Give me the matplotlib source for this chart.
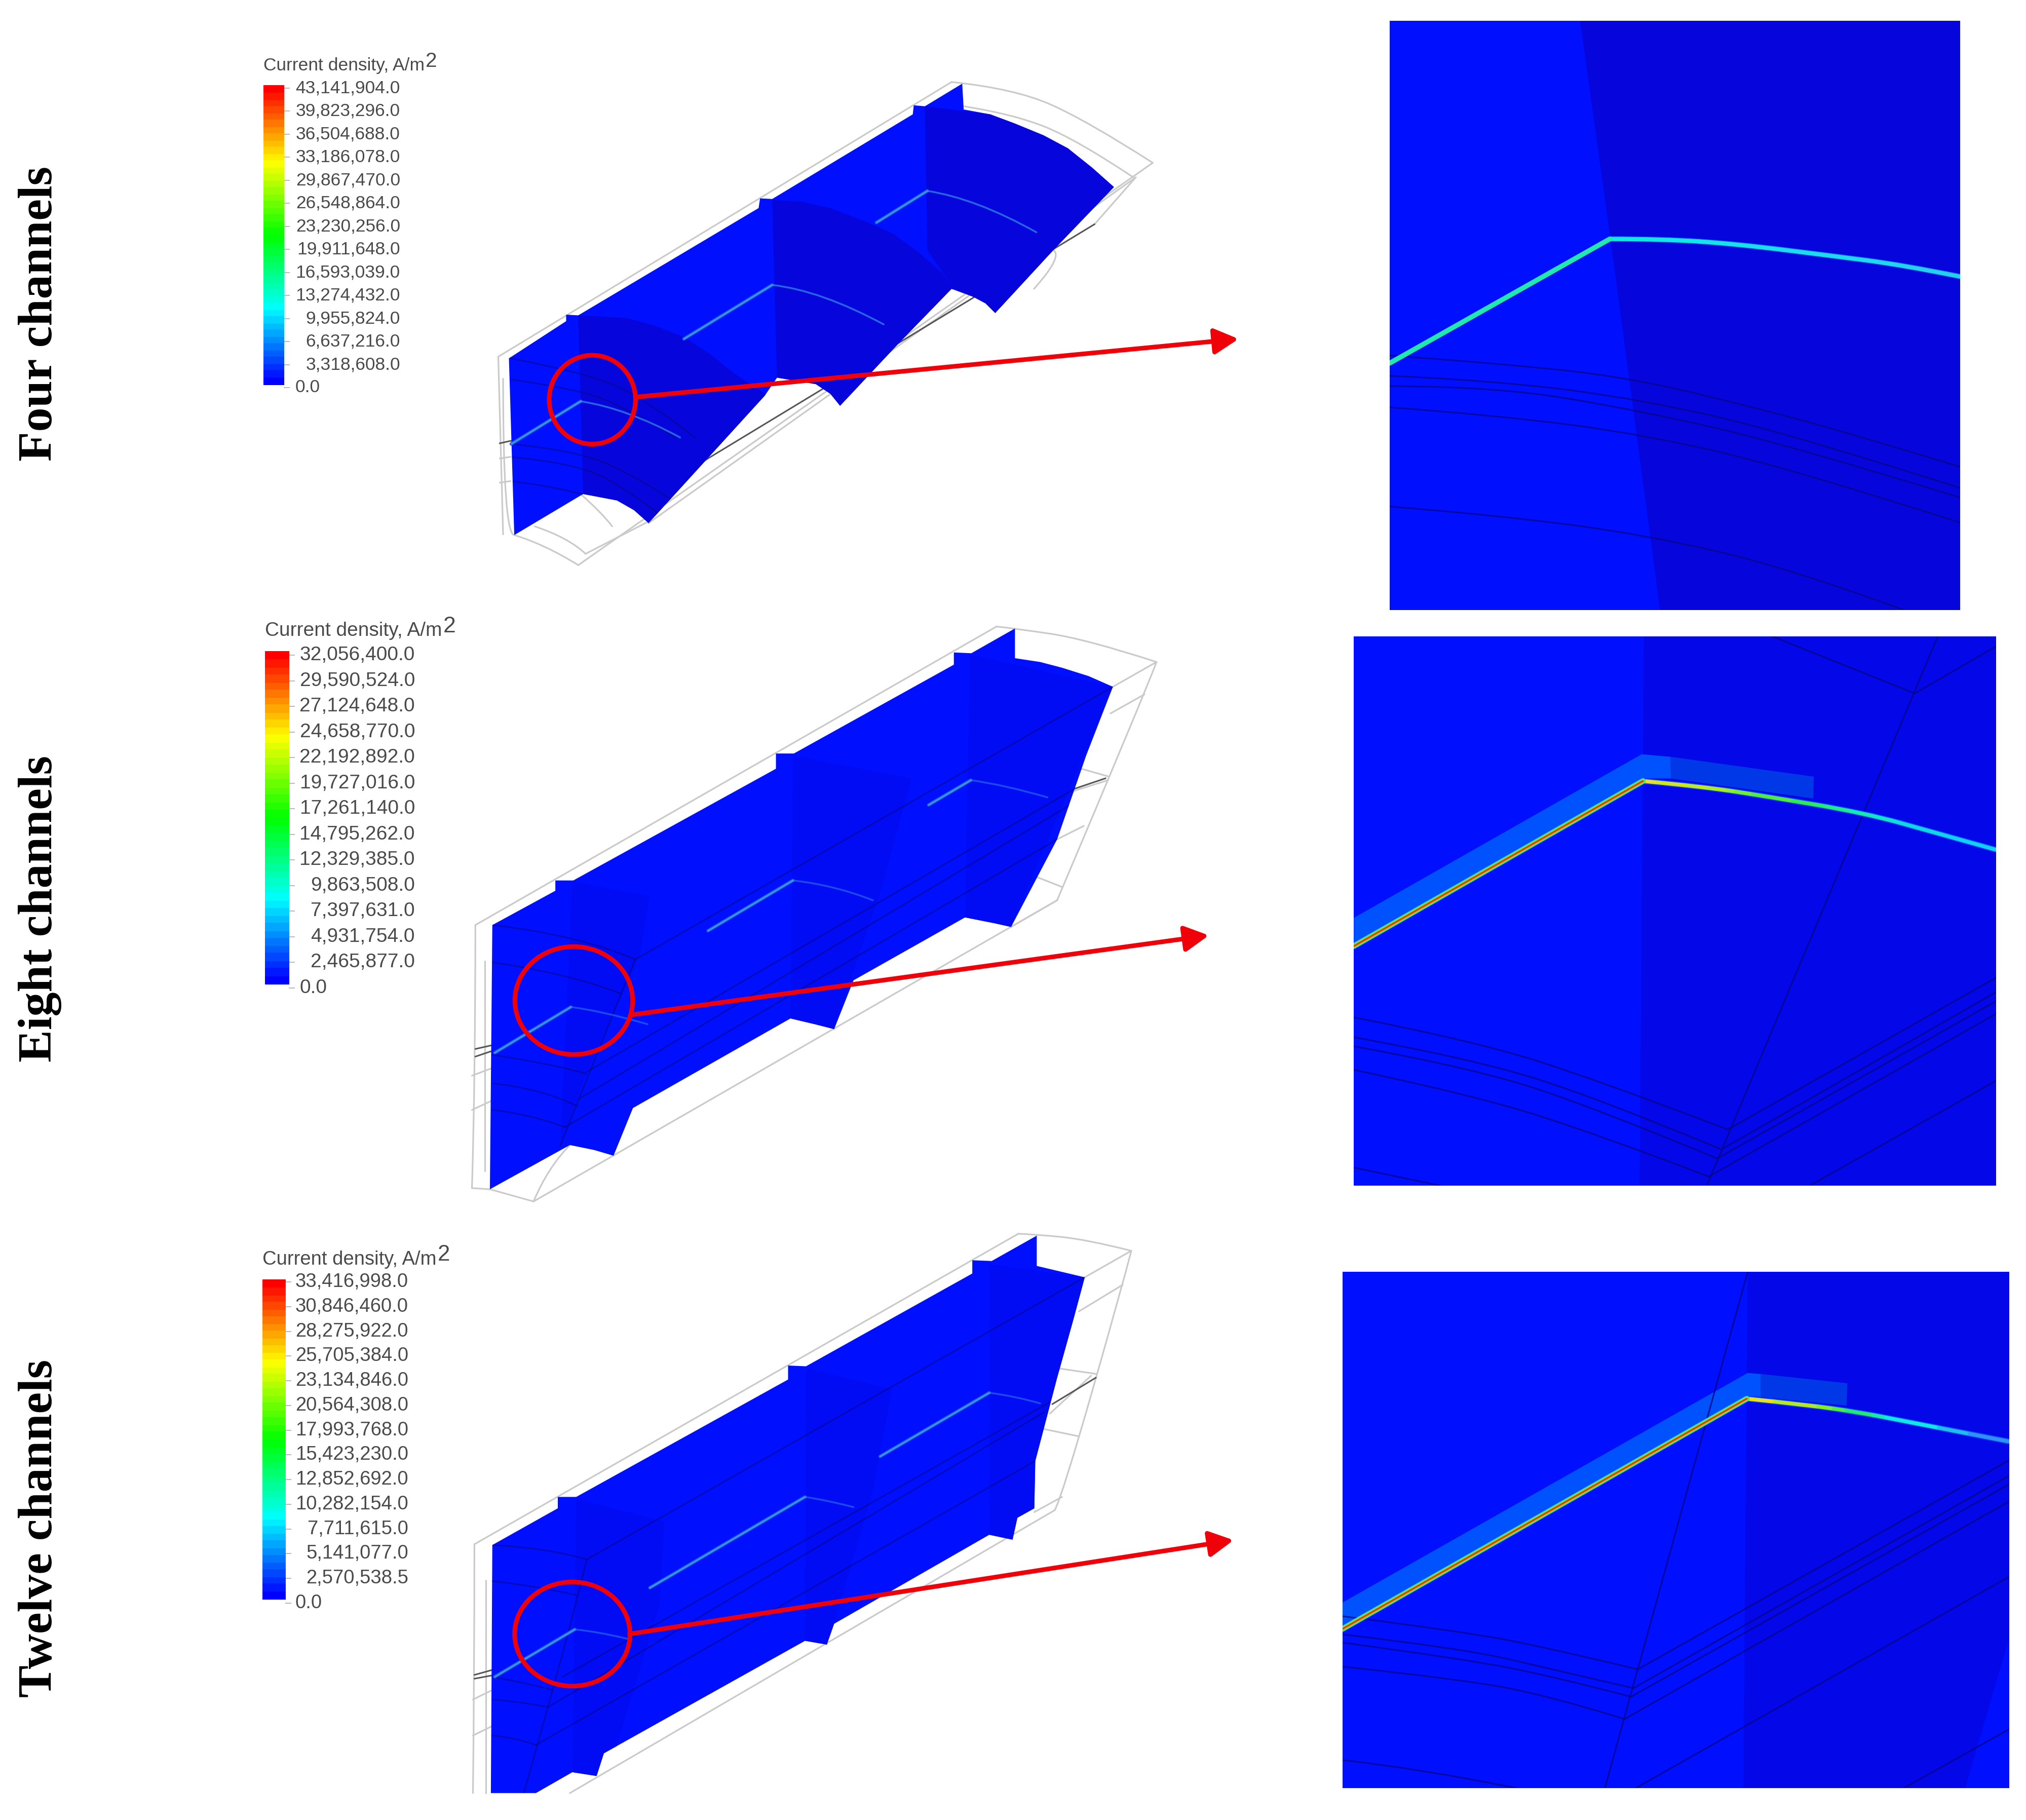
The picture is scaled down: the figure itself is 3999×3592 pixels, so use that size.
import numpy as np
import matplotlib
matplotlib.use('Agg')
import matplotlib.pyplot as plt
from matplotlib.colors import LinearSegmentedColormap
from matplotlib.patches import Ellipse, PathPatch, Polygon, Rectangle
from matplotlib.path import Path
from matplotlib.collections import LineCollection

plt.rcParams['font.family'] = ['Liberation Sans', 'DejaVu Sans']

# legend values
row_labels = ['Four channels', 'Eight channels', 'Twelve channels']
legend_title = 'Current density, A/m'
ticks_four = ['43,141,904.0', '39,823,296.0', '36,504,688.0', '33,186,078.0', '29,867,470.0',
              '26,548,864.0', '23,230,256.0', '19,911,648.0', '16,593,039.0', '13,274,432.0',
              '9,955,824.0', '6,637,216.0', '3,318,608.0', '0.0']
ticks_eight = ['32,056,400.0', '29,590,524.0', '27,124,648.0', '24,658,770.0', '22,192,892.0',
               '19,727,016.0', '17,261,140.0', '14,795,262.0', '12,329,385.0', '9,863,508.0',
               '7,397,631.0', '4,931,754.0', '2,465,877.0', '0.0']
ticks_twelve = ['33,416,998.0', '30,846,460.0', '28,275,922.0', '25,705,384.0', '23,134,846.0',
                '20,564,308.0', '17,993,768.0', '15,423,230.0', '12,852,692.0', '10,282,154.0',
                '7,711,615.0', '5,141,077.0', '2,570,538.5', '0.0']

BLUE = '#0010ff'
DARK_LINE = '#060688'
GREY = '#cacaca'
RED = '#f00008'
TEXT = '#4a4a4a'

blue_four = [(57, 905), (175, 790), (175, 770), (200, 772), (572, 440), (575, 410), (600, 412), (890, 150),
             (892, 122), (915, 125), (992, 55), (995, 135), (1050, 150), (1100, 178), (1160, 215), (1210, 255),
             (1260, 315), (1305, 375), (1180, 570), (1060, 765), (1040, 735), (1015, 715), (970, 690), (860, 860),
             (740, 1052), (720, 1015), (690, 985), (610, 965), (585, 1020), (345, 1415), (315, 1375), (280, 1345),
             (210, 1325), (68, 1452)]
dark_four = [[(200, 772), (300, 780), (360, 805), (420, 840), (475, 895), (520, 950), (590, 1020), (345, 1415),
              (315, 1375), (280, 1345), (210, 1325)],
             [(600, 415), (660, 420), (720, 440), (790, 480), (850, 520), (905, 580), (950, 640), (975, 690),
              (740, 1052), (720, 1015), (690, 985), (610, 965)],
             [(915, 125), (1050, 150), (1100, 178), (1160, 215), (1210, 255), (1260, 315), (1305, 375), (1060, 765),
              (1040, 735), (1015, 715), (975, 690), (920, 570)]]
chan_four = [[(62, 1170), (205, 1038), (300, 1060), (410, 1150)],
             [(418, 845), (600, 678), (700, 695), (830, 800)],
             [(815, 485), (920, 387), (1020, 410), (1145, 515)]]
wire_four = [[(35, 900), (970, 50)], [(970, 50), (1100, 70), (1250, 170), (1385, 300)],
             [(995, 125), (1100, 150), (1230, 230), (1345, 345)], [(1385, 300), (200, 1545)],
             [(1350, 345), (345, 1415)], [(35, 900), (45, 1450)], [(45, 968), (45, 1450), (68, 1452)],
             [(68, 1452), (130, 1480), (200, 1545)], [(110, 1425), (180, 1460), (215, 1510)],
             [(205, 1325), (250, 1385), (270, 1425)], [(215, 1510), (345, 1410)], [(1350, 345), (1265, 490)],
             [(38, 1215), (60, 1210)], [(38, 1290), (60, 1285)], [(1180, 570), (1200, 590), (1140, 690)]]
dark_lines_four = [[(60, 905), (200, 945), (330, 1020), (440, 1150)], [(60, 970), (200, 1000), (300, 1060), (400, 1150)],
                   [(60, 1170), (200, 1190), (330, 1280), (400, 1350)], [(60, 1210), (200, 1230), (310, 1320), (370, 1390)],
                   [(60, 1285), (200, 1310), (300, 1370)]]
black_four = [[(330, 1340), (1265, 490)], [(38, 1168), (62, 1160)]]

blue_eight = [(75, 805), (205, 715), (205, 688), (242, 688), (660, 395), (660, 355), (697, 355), (1027, 122),
              (1027, 90), (1063, 92), (1153, 27), (1153, 105), (1205, 115), (1250, 130), (1305, 152), (1355, 180),
              (1300, 360), (1240, 580), (1145, 810), (1110, 800), (1050, 785), (820, 950), (780, 1078), (740, 1065),
              (690, 1050), (365, 1285), (325, 1410), (285, 1395), (235, 1382), (70, 1498)]
dark_eight = [[(240, 690), (400, 730), (380, 880), (270, 1190), (215, 1385)],
              [(695, 360), (940, 420), (880, 700), (780, 1078), (690, 1050)],
              [(1060, 95), (1355, 180), (1145, 810), (1050, 785)]]
chan_eight = [[(80, 1140), (237, 1020), (300, 1030), (395, 1065)],
              [(520, 820), (695, 688), (780, 700), (860, 740)],
              [(975, 490), (1062, 425), (1130, 437), (1220, 470)]]
wire_eight = [[(40, 805), (1115, 22)], [(1115, 22), (1153, 27), (1300, 55), (1445, 115)], [(1445, 115), (1420, 200), (1240, 740)],
              [(1445, 115), (1355, 180)], [(1420, 200), (1350, 250)], [(1240, 740), (160, 1530)],
              [(1145, 810), (1240, 740)], [(40, 805), (40, 1200), (33, 1495)], [(33, 1495), (70, 1498)], [(70, 1498), (160, 1530)],
              [(160, 1530), (190, 1440), (235, 1382)], [(60, 900), (60, 1450)], [(33, 1200), (75, 1180)], [(33, 1290), (75, 1265)],
              [(1240, 580), (1295, 545)], [(1200, 680), (1250, 705)], [(1290, 395), (1345, 415)], [(1270, 455), (1345, 425)]]
dark_lines_eight = [[(75, 805), (250, 830), (370, 895)], [(60, 900), (230, 930), (340, 985)],
                    [(75, 1145), (200, 1170), (270, 1195)], [(75, 1220), (180, 1235), (250, 1280)],
                    [(75, 1290), (150, 1300), (225, 1335)], [(370, 895), (1355, 180)], [(370, 895), (275, 1190), (215, 1385)],
                    [(270, 1190), (1300, 430)], [(255, 1260), (1280, 480)], [(225, 1335), (1240, 580)]]
black_eight = [[(40, 1130), (75, 1120)], [(40, 1150), (75, 1135)], [(1270, 450), (1340, 420)]]

blue_twelve = [(75, 842), (210, 745), (210, 715), (248, 715), (685, 405), (685, 368), (722, 370), (1065, 125),
               (1065, 90), (1105, 92), (1198, 25), (1198, 105), (1297, 135), (1275, 240), (1240, 400), (1195, 620),
               (1193, 745), (1158, 770), (1148, 828), (1100, 815), (780, 1050), (765, 1105), (720, 1095), (305, 1392),
               (290, 1452), (240, 1442), (165, 1497), (72, 1497)]
dark_twelve = [[(248, 720), (430, 780), (420, 1000), (330, 1380), (290, 1452), (240, 1442)],
               [(722, 375), (900, 430), (860, 700), (780, 1050), (765, 1105), (720, 1095)],
               [(1100, 100), (1297, 135), (1195, 620), (1193, 745), (1148, 828), (1100, 815)]]
chan_twelve = [[(80, 1190), (245, 1065), (290, 1070), (355, 1090)],
               [(400, 955), (720, 715), (770, 725), (820, 742)],
               [(875, 608), (1100, 440), (1150, 448), (1205, 468)]]
wire_twelve = [[(38, 840), (1160, 20)], [(1160, 20), (1198, 22), (1300, 35), (1393, 65)], [(1393, 65), (1375, 155), (1250, 715), (1235, 750)],
               [(1393, 65), (1297, 135)], [(1375, 155), (1285, 225)], [(1235, 750), (235, 1497)], [(38, 840), (38, 1190), (35, 1497)],
               [(62, 935), (62, 1497)], [(35, 1250), (75, 1225)], [(35, 1345), (75, 1320)], [(1250, 715), (1193, 755)],
               [(1210, 535), (1285, 555)], [(1225, 495), (1310, 395)], [(1240, 375), (1320, 390)]]
dark_lines_twelve = [[(75, 842), (190, 850), (270, 880)], [(270, 880), (1297, 135)], [(270, 880), (245, 1010), (190, 1270), (140, 1497)],
                     [(60, 935), (170, 950), (250, 975)], [(75, 1190), (140, 1205), (200, 1225)], [(75, 1250), (130, 1255), (190, 1270)],
                     [(75, 1345), (120, 1350), (165, 1370)], [(190, 1270), (1215, 490)], [(220, 1190), (1225, 465)], [(165, 1370), (1195, 620)]]
black_twelve = [[(38, 1185), (80, 1170)], [(38, 1195), (80, 1185)], [(1230, 470), (1320, 400)]]

arc_colors_four = ['#10e8e0', '#10e8e8', '#18dff0', '#20d8f0', '#28ccf0']
dark_four_r = [(530, 14), (610, 570), (745, 1547), (1553, 1547), (1553, 14)]
chan_four_r = [(18, 905), (610, 582)]
arc_four_r = [(610, 582), (750, 582), (950, 595), (1200, 625), (1400, 650), (1553, 680)]
lines_four_r = [[(18, 885), (300, 905), (650, 940), (1000, 1020), (1300, 1100), (1553, 1175)],
                [(18, 938), (300, 950), (700, 1000), (1100, 1090), (1553, 1230)],
                [(18, 965), (300, 965), (700, 1030), (1100, 1120), (1553, 1255)],
                [(18, 1020), (300, 1040), (700, 1090), (1100, 1180), (1553, 1320)],
                [(18, 1278), (300, 1300), (700, 1350), (1100, 1440), (1400, 1547)]]

arc_colors_eight = ['#e8e020', '#a0f020', '#30e850', '#10e8c0', '#10d0f8']
dark_eight_r = [(705, 22), (695, 1540), (1544, 1540), (1544, 22)]
band_eight_l = [(15, 800), (700, 348), (768, 355), (770, 415), (705, 415), (15, 870)]
band_eight_r = [(768, 355), (1110, 410), (1108, 470), (770, 415)]
chan_eight_r = [(15, 878), (703, 422)]
arc_eight_r = [(703, 422), (850, 438), (1000, 465), (1230, 510), (1400, 565), (1544, 612)]
lines_eight_r = [[(15, 1075), (300, 1140), (600, 1250), (905, 1385)], [(15, 1130), (300, 1190), (600, 1300), (890, 1440)],
                 [(15, 1155), (300, 1215), (600, 1330), (880, 1465)], [(15, 1220), (300, 1290), (600, 1400), (860, 1515)],
                 [(15, 1490), (220, 1540)], [(905, 1385), (1544, 965)], [(890, 1440), (1544, 1005)], [(880, 1465), (1544, 1030)],
                 [(860, 1515), (1544, 1065)], [(1100, 1540), (1544, 1250)], [(855, 1540), (1405, 22)],
                 [(1010, 22), (1350, 180)], [(1350, 180), (1544, 50)]]

arc_colors_twelve = ['#e8e020', '#80f020', '#20e870', '#10e8e8', '#3090f8']
dark_twelve_r = [(945, 30), (935, 1537), (1440, 1537), (1540, 1100), (1540, 30)]
band_twelve_l = [(23, 995), (945, 325), (975, 328), (975, 395), (945, 392), (23, 1065)]
band_twelve_r = [(975, 328), (1172, 355), (1170, 420), (975, 395)]
chan_twelve_r = [(23, 1072), (943, 400)]
arc_twelve_r = [(943, 400), (1080, 418), (1200, 440), (1320, 470), (1440, 500), (1540, 525)]
lines_twelve_r = [[(23, 1035), (300, 1080), (500, 1130), (695, 1190)], [(23, 1088), (300, 1130), (500, 1190), (685, 1245)],
                  [(23, 1112), (300, 1160), (500, 1210), (680, 1270)], [(23, 1182), (300, 1220), (500, 1270), (665, 1335)],
                  [(23, 1455), (200, 1480), (420, 1537)], [(695, 1190), (1540, 580)], [(685, 1245), (1540, 625)],
                  [(680, 1270), (1540, 650)], [(665, 1335), (1540, 700)], [(690, 1537), (1540, 920)],
                  [(1300, 1537), (1540, 1365)], [(945, 30), (620, 1537)]]

# crop origin and scale of each set of points above
view_four = (950, 130, 1.045, 1.568)
view_eight = (900, 1220, 1.045, 1.329)
view_twelve = (900, 2420, 1.045, 1.338)
zoom_four = (2730, 30, 1.363, 1.318)
zoom_eight = (2660, 1240, 1.206, 1.4)
zoom_twelve = (2630, 2490, 1.153, 1.479)

fig = plt.figure(figsize=(39.99, 35.92), dpi=100)
ax = fig.add_axes([0, 0, 1, 1])
ax.set_xlim(0, 3999)
ax.set_ylim(3592, 0)
rainbow = LinearSegmentedColormap.from_list('rb', ['#0000ff', '#00ffff', '#00ff00', '#ffff00', '#ff0000'], N=44)


def px(pts, view):
    a = np.array(pts, dtype=float)
    return np.c_[view[0] + a[:, 0] / view[2], view[1] + a[:, 1] / view[3]]


def curve_path(pts, view):
    a = px(pts, view)
    if len(a) < 3:
        return Path(a, [Path.MOVETO, Path.LINETO])
    verts = [a[0]]
    codes = [Path.MOVETO]
    for i in range(1, len(a) - 1):
        end = a[-1] if i == len(a) - 2 else (a[i] + a[i + 1]) / 2
        verts += [a[i], end]
        codes += [Path.CURVE3, Path.CURVE3]
    return Path(verts, codes)


def curve(pts, view, color, lw, clip=None, alpha=1.0, z=3):
    p = PathPatch(curve_path(pts, view), fill=False, ec=color, lw=lw, alpha=alpha, zorder=z, capstyle='round')
    ax.add_patch(p)
    if clip is not None:
        p.set_clip_path(clip)


def draw_view(view, blue, darks, dark_color, chans, wires, dark_lines, blacks, ring, arrow, arc_alpha):
    for w in wires:
        curve(w, view, GREY, 2.3, z=1)
    poly = Polygon(px(blue, view), closed=True, fc=BLUE, ec='none', zorder=2)
    ax.add_patch(poly)
    for d in darks:
        s = Polygon(px(d, view), closed=True, fc=dark_color, ec='none', zorder=2.2)
        ax.add_patch(s)
        s.set_clip_path(poly)
    for line in dark_lines:
        curve(line, view, DARK_LINE, 2.0, clip=poly, alpha=0.6)
    for c in chans:
        # sharp corner where the straight part meets the arc
        curve(c[:2], view, '#1a50e8', 5, z=3.5)
        curve(c[:2], view, '#3a98e8', 2.4, z=3.6)
        curve(c[1:], view, '#2f7ce8', 2.6, alpha=arc_alpha, z=3.5)
    for b in blacks:
        curve(b, view, '#555555', 2.2, z=1.5)
    ex, ey, ew, eh = ring
    ax.add_patch(Ellipse((view[0] + ex / view[2], view[1] + ey / view[3]), ew / view[2], eh / view[3],
                         fill=False, ec=RED, lw=6.5, zorder=5))
    a = px(arrow, view)
    ax.annotate('', xy=a[1], xytext=a[0], zorder=5,
                arrowprops=dict(arrowstyle='-|>,head_length=1.6,head_width=0.85', color=RED, lw=6.5,
                                shrinkA=0, shrinkB=0, mutation_scale=18))


def draw_zoom(view, rect, dark, lines, chan, arc, arc_colors, dark_color, bands=None, core=True):
    r = px(rect, view)
    frame = Rectangle(r[0], r[1][0] - r[0][0], r[1][1] - r[0][1], fc=BLUE, ec='none', zorder=1)
    ax.add_patch(frame)
    d = Polygon(px(dark, view), closed=True, fc=dark_color, ec='none', zorder=1.1)
    ax.add_patch(d)
    d.set_clip_path(frame)
    if bands:
        ax.add_patch(Polygon(px(bands[0], view), closed=True, fc='#0052ff', ec='none', zorder=1.2))
        ax.add_patch(Polygon(px(bands[1], view), closed=True, fc='#0038e8', ec='none', zorder=1.2))
    for line in lines:
        curve(line, view, DARK_LINE, 2.2, clip=frame, alpha=0.8, z=1.5)
    # arc flattened to short pieces so the colour can run along it
    a = curve_path(arc, view).to_polygons(closed_only=False)[0]
    segs = [a[i:i + 2] for i in range(len(a) - 1)]
    cm = LinearSegmentedColormap.from_list('arc', arc_colors)
    cols = cm(np.linspace(0, 1, len(segs)))
    halo = LineCollection(segs, colors='#0a70ff', linewidths=8, alpha=0.6, zorder=1.9)
    ax.add_collection(halo)
    halo.set_clip_path(frame)
    lc = LineCollection(segs, colors=cols, linewidths=5.5 if core else 6, zorder=2, capstyle='round')
    ax.add_collection(lc)
    lc.set_clip_path(frame)
    if core:
        curve(chan, view, '#30e8a0', 8, clip=frame, z=2)
        curve(chan, view, '#b8c820', 5, clip=frame, z=2.1)
        curve(chan, view, '#d04808', 2.4, clip=frame, z=2.2)
    else:
        curve(chan, view, '#20e8b0', 7, clip=frame, z=2)


def draw_legend(ticks, bar, x_right, y_top, y_bottom, title_y, size):
    x0, x1, b0, b1 = bar
    vals = np.linspace(1, 0, 200).reshape(-1, 1)
    ax.imshow(vals, cmap=rainbow, extent=(x0, x1, b1, b0), aspect='auto', zorder=2, vmin=0, vmax=1)
    t = ax.text(x0, title_y, legend_title, fontsize=size, color=TEXT, va='center', ha='left')
    # superscript is drawn large in the original, so it is its own text
    ext = t.get_window_extent(fig.canvas.get_renderer())
    ax.text(ext.x1 + 2, title_y - 9, '2', fontsize=size * 1.15, color=TEXT, va='center', ha='left')
    ys = np.linspace(y_top, y_bottom, len(ticks))
    for label, y in zip(ticks, ys):
        if label == '0.0':
            ax.text(x_right - 5.85 * size / 0.72, y, label, fontsize=size, color=TEXT, va='center', ha='left')
        else:
            ax.text(x_right, y, label, fontsize=size, color=TEXT, va='center', ha='right')
        ax.plot([x1, x1 + 10], [y, y], color='#bbbbbb', lw=1.5, zorder=1)


draw_view(view_four, blue_four, dark_four, '#0606dc', chan_four, wire_four, dark_lines_four, black_four,
          (229, 1033, 178, 275), [(318, 1025), (1562, 845)], 0.8)
draw_view(view_eight, blue_eight, dark_eight, '#020cf4', chan_eight, wire_eight, dark_lines_eight, black_eight,
          (243, 1003, 243, 283), [(365, 1040), (1553, 832)], 0.55)
draw_view(view_twelve, blue_twelve, dark_twelve, '#020cf4', chan_twelve, wire_twelve, dark_lines_twelve, black_twelve,
          (240, 1077, 238, 275), [(358, 1077), (1604, 829)], 0.55)

draw_zoom(zoom_four, [(18, 14), (1553, 1547)], dark_four_r, lines_four_r, chan_four_r, arc_four_r,
          arc_colors_four, '#0606dc', core=False)
draw_zoom(zoom_eight, [(15, 22), (1544, 1540)], dark_eight_r, lines_eight_r, chan_eight_r, arc_eight_r,
          arc_colors_eight, '#0408e8', bands=(band_eight_l, band_eight_r))
draw_zoom(zoom_twelve, [(23, 30), (1540, 1537)], dark_twelve_r, lines_twelve_r, chan_twelve_r, arc_twelve_r,
          arc_colors_twelve, '#0408e8', bands=(band_twelve_l, band_twelve_r))

draw_legend(ticks_four, (520, 561, 168, 760), 790, 174, 765, 130, 25.5)
draw_legend(ticks_eight, (523, 571, 1285, 1943), 819, 1293, 1950, 1245, 28)
draw_legend(ticks_twelve, (518, 564, 2525, 3157), 806, 2530, 3164, 2486, 27.5)

ax.text(122, 619, row_labels[0], rotation=90, fontsize=69, fontweight='bold', family=['Liberation Serif'],
        ha='right', va='center')
ax.text(122, 1793, row_labels[1], rotation=90, fontsize=69, fontweight='bold', family=['Liberation Serif'],
        ha='right', va='center')
ax.text(122, 3016, row_labels[2], rotation=90, fontsize=69, fontweight='bold', family=['Liberation Serif'],
        ha='right', va='center')

ax.set_xlim(0, 3999)
ax.set_ylim(3592, 0)
ax.axis('off')
fig.savefig('out.png', dpi=100)
